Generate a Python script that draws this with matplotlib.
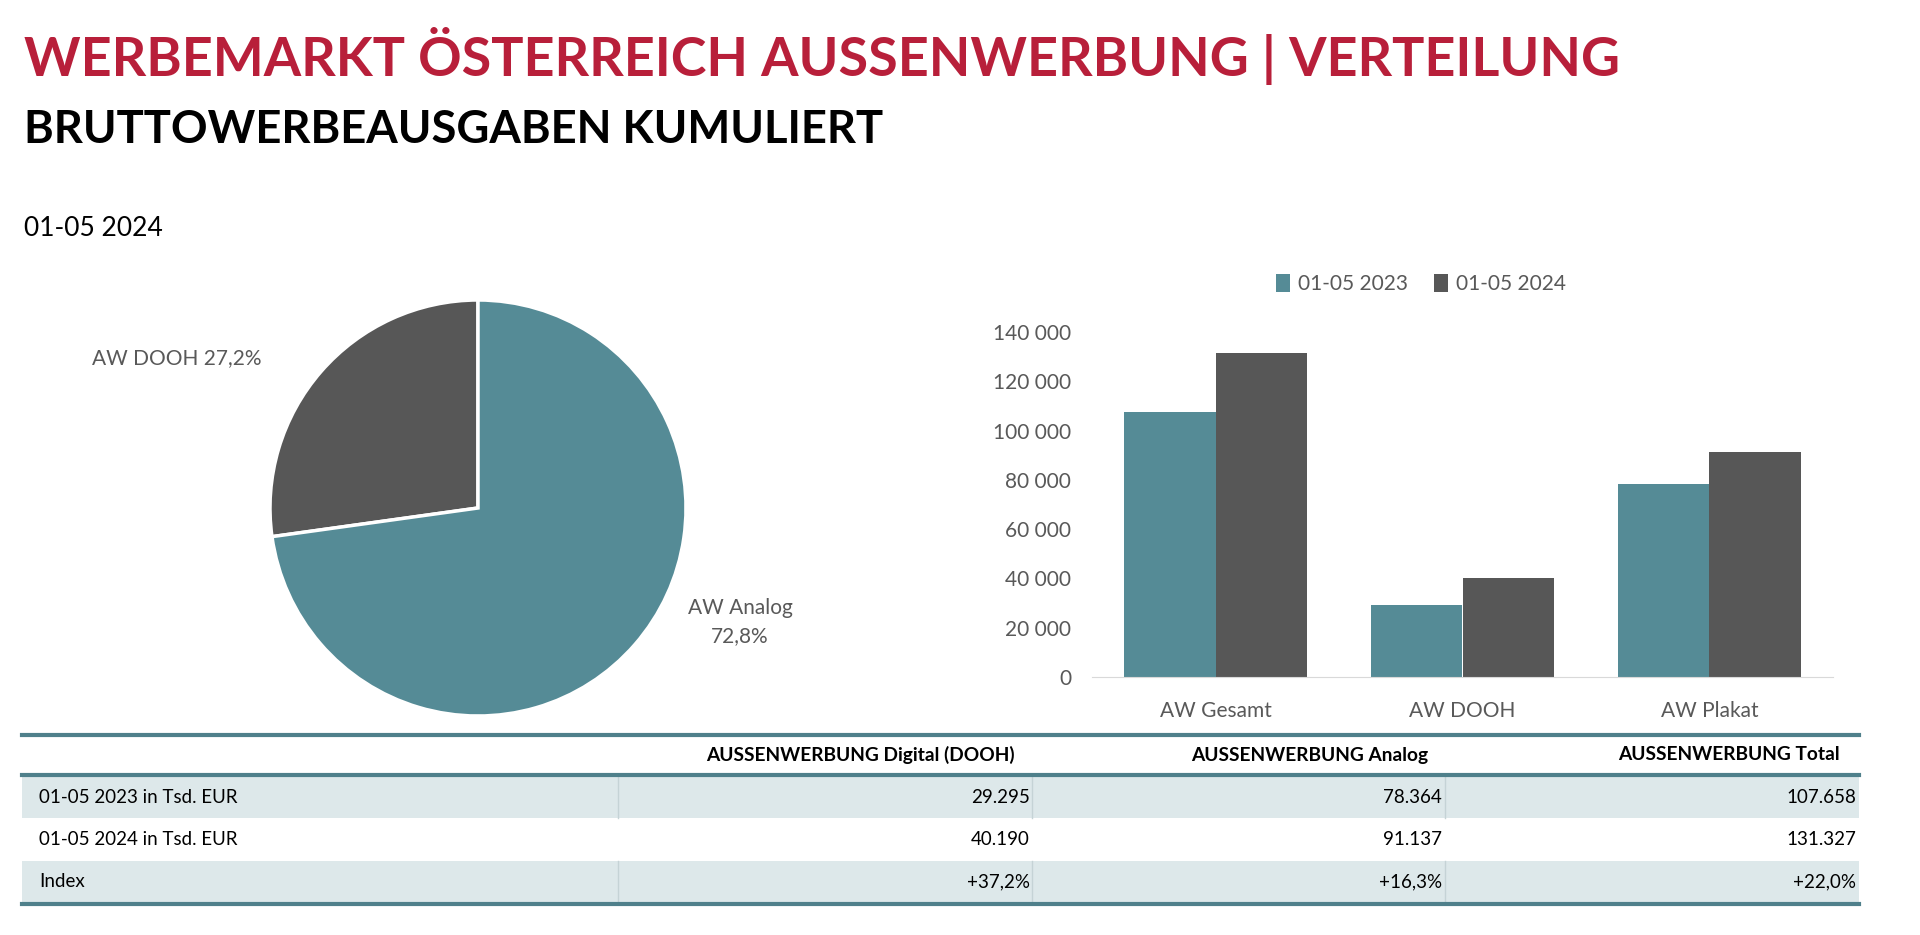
import matplotlib
matplotlib.use('Agg')
import matplotlib.pyplot as plt
from matplotlib.patches import Rectangle
from matplotlib.lines import Line2D
from matplotlib.ticker import FuncFormatter

plt.rcParams['font.family'] = ['Lato', 'DejaVu Sans']

# Daten
pie_labels = ['AW DOOH', 'AW Analog']
pie_shares = [27.2, 72.8]

bar_cats = ['AW Gesamt', 'AW DOOH', 'AW Plakat']
bar_2023 = [107658, 29295, 78364]
bar_2024 = [131327, 40190, 91137]
series_names = ['01-05 2023', '01-05 2024']

table_cols = ['AUSSENWERBUNG Digital (DOOH)', 'AUSSENWERBUNG Analog', 'AUSSENWERBUNG Total']
row_labels = ['01-05 2023 in Tsd. EUR', '01-05 2024 in Tsd. EUR', 'Index']
vals_2023 = [29295, 78364, 107658]
vals_2024 = [40190, 91137, 131327]

TEAL = '#558b96'
DARK = '#575757'
RED = '#b81f3a'
GREY = '#595959'
LINE = '#4f808b'
SHADE = '#dde8ea'

W, H = 1920, 935
fig = plt.figure(figsize=(W / 100, H / 100), dpi=100)


def fx(x):
    return x / W


def fy(y):
    return 1 - y / H


def de(v, dec=1):
    return f'{v:.{dec}f}'.replace('.', ',')


def thousands(v):
    return f'{int(v):,}'.replace(',', '.')


# Titel
fig.text(fx(24), fy(76), 'WERBEMARKT ÖSTERREICH AUSSENWERBUNG | VERTEILUNG',
         color=RED, fontsize=38.8, fontweight='bold', va='baseline')
fig.text(fx(24), fy(143), 'BRUTTOWERBEAUSGABEN KUMULIERT',
         color='black', fontsize=32.7, fontweight='bold', va='baseline')
fig.text(fx(24), fy(236), '01-05 2024', color='black', fontsize=19, va='baseline')

# Kreisdiagramm
ax_pie = fig.add_axes([fx(270), fy(716), 416 / W, 416 / H])
ax_pie.pie(pie_shares, startangle=90, counterclock=True, colors=[DARK, TEAL],
           wedgeprops=dict(edgecolor='white', linewidth=2.5))
ax_pie.set_xlim(-1, 1)
ax_pie.set_ylim(-1, 1)
ax_pie.set_aspect('equal')
ax_pie.text(-1.04, 0.72, f'{pie_labels[0]} {de(pie_shares[0])}%', ha='right', va='center',
            fontsize=15, color=GREY)
ax_pie.text(1.26, -0.55, f'{pie_labels[1]}\n{de(pie_shares[1])}%', ha='center', va='center',
            fontsize=15, color=GREY, linespacing=1.5)

# Balkendiagramm
ax = fig.add_axes([fx(1092), fy(677), (1833 - 1092) / W, (677 - 332) / H])
x = range(len(bar_cats))
w = 0.37
ax.bar([i - w / 2 for i in x], bar_2023, width=w, color=TEAL, label=series_names[0])
ax.bar([i + w / 2 for i in x], bar_2024, width=w, color=DARK, label=series_names[1])
ax.set_xlim(-0.5, 2.5)
ax.set_ylim(0, 140000)
ax.set_yticks(range(0, 140001, 20000))
ax.yaxis.set_major_formatter(FuncFormatter(lambda v, p: f'{int(v):,}'.replace(',', ' ')))
ax.set_xticks(list(x))
ax.set_xticklabels(bar_cats)
for s in ['top', 'right', 'left']:
    ax.spines[s].set_visible(False)
ax.spines['bottom'].set_color('#d9d9d9')
ax.tick_params(axis='both', length=0, labelsize=15, colors=GREY)
ax.tick_params(axis='y', pad=15)
ax.tick_params(axis='x', pad=17)
ax.legend(loc='center', bbox_to_anchor=(fx(1421), fy(284)), bbox_transform=fig.transFigure,
          ncol=2, frameon=False, fontsize=15, handlelength=0.7, handleheight=1.0,
          handletextpad=0.4, columnspacing=1.2, labelcolor=GREY)

# Tabelle
left, right = 22, 1859
dividers = [618, 1032, 1445]
val_right = [1030, 1442, 1856]
head_right = [1015, 1428, 1840]
rows_y = [(777, 818), (818, 861), (861, 902)]

for i, (y0, y1) in enumerate(rows_y):
    if i != 1:
        fig.add_artist(Rectangle((fx(left), fy(y1)), (right - left) / W, (y1 - y0) / H,
                                 transform=fig.transFigure, facecolor=SHADE, edgecolor='none'))
        for d in dividers:
            fig.add_artist(Line2D([fx(d), fx(d)], [fy(y0), fy(y1)], transform=fig.transFigure,
                                  color='#c5d3d6', linewidth=1))

for y in [735, 775, 904]:
    fig.add_artist(Line2D([fx(left), fx(right)], [fy(y), fy(y)], transform=fig.transFigure,
                          color=LINE, linewidth=3))

for c, name in enumerate(table_cols):
    fig.text(fx(head_right[c]), fy(755), name, ha='right', va='center',
             fontsize=13.8, fontweight='bold', color='black')

index_vals = [f'+{de((b / a - 1) * 100)}%' for a, b in zip(vals_2023, vals_2024)]
table_rows = [[thousands(v) for v in vals_2023],
              [thousands(v) for v in vals_2024],
              index_vals]
for r, (y0, y1) in enumerate(rows_y):
    yc = (y0 + y1) / 2
    fig.text(fx(39), fy(yc), row_labels[r], ha='left', va='center', fontsize=13.5, color='black')
    for c in range(3):
        fig.text(fx(val_right[c]), fy(yc), table_rows[r][c], ha='right', va='center',
                 fontsize=13.5, color='black')

fig.savefig('out.png', dpi=100)
